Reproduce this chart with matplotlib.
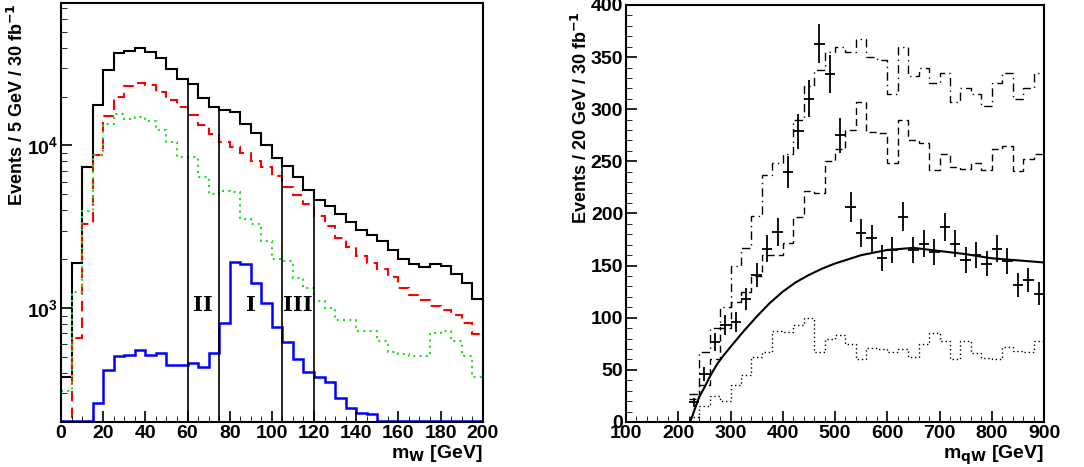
import numpy as np
import matplotlib
matplotlib.use('Agg')
import matplotlib.pyplot as plt
from matplotlib.ticker import MultipleLocator, LogLocator, NullFormatter

plt.rcParams['font.family'] = 'Liberation Sans'
plt.rcParams['font.weight'] = 'bold'
plt.rcParams['xtick.labelsize'] = 14
plt.rcParams['ytick.labelsize'] = 14

# ---- left panel: m_W, 5 GeV bins ----
mw_edges = np.arange(0, 205, 5)
mw_total = [380, 1900, 7350, 17700, 29000, 36800, 38200, 39500, 37600, 34300,
            29700, 25800, 24000, 19700, 17300, 16500, 16100, 13600, 12000, 10100,
            8390, 7530, 6440, 5330, 4640, 4260, 3790, 3410, 3020, 2830,
            2590, 2270, 2000, 1860, 1780, 1860, 1820, 1630, 1430, 1140]
mw_red = [100, 656, 3280, 8800, 15100, 19900, 23100, 24200, 23400, 21300,
          18900, 17300, 15300, 13300, 11800, 10500, 9770, 8970, 8080, 7350,
          6530, 5580, 4980, 4360, 3700, 3210, 2720, 2380, 2090, 1900,
          1730, 1550, 1330, 1210, 1130, 1030, 980, 910, 810, 690]
mw_green = [308, 1250, 3970, 8680, 13470, 15700, 14600, 14960, 14100, 12400,
            10500, 8470, 8470, 6380, 5030, 5230, 5150, 3530, 3280, 2590,
            2000, 1950, 1540, 1330, 1110, 1010, 850, 850, 720, 720,
            625, 540, 520, 510, 510, 705, 720, 625, 510, 380]
mw_blue = [0, 0, 0, 260, 418, 510, 515, 555, 515, 530,
           450, 445, 460, 435, 530, 815, 1930, 1860, 1430, 1070,
           765, 620, 490, 405, 380, 350, 280, 245, 228, 225,
           0, 0, 0, 0, 0, 0, 0, 0, 0, 0]
cut_edges = [60, 75, 105, 120]
region_labels = ['II', 'I', 'III']
region_x = [67.5, 90, 112.5]

# ---- right panel: m_qW, 20 GeV bins ----
mq_edges = np.arange(220, 920, 20)
mq_dashdot = [27, 67, 90, 110, 150, 167, 198, 237, 248, 257, 290, 322, 338, 355, 360,
              355, 367, 350, 347, 315, 360, 332, 340, 325, 335, 307, 320, 315, 303,
              325, 335, 310, 320, 335]
mq_dashed = [22, 35, 60, 90, 115, 125, 140, 160, 160, 172, 197, 222, 220, 250, 262,
             280, 307, 278, 277, 248, 290, 270, 268, 242, 257, 245, 243, 248, 242,
             262, 265, 241, 252, 257]
mq_dotted = [5, 15, 25, 20, 35, 45, 62, 67, 87, 86, 93, 100, 67, 80, 83, 75, 60, 71,
             70, 67, 70, 62, 75, 85, 78, 60, 78, 66, 61, 60, 72, 68, 67, 78]
mq_data = [19, 46, 77, 93, 96, 118, 141, 166, 182, 240, 279, 310, 363, 334, 275, 206,
           181, 176, 157, 165, 197, 165, 171, 163, 187, 171, 155, 160, 152, 166, 154,
           131, 136, 123]
fit_x = [222, 225, 240, 250, 262, 275, 287, 300, 325, 350, 375, 400, 425, 450, 475,
         500, 550, 600, 650, 700, 750, 800, 850, 900]
fit_y = [0, 3, 24, 33, 45, 56, 64, 72, 87, 101, 114, 125, 134, 141, 147,
         152, 160, 165, 167, 164, 161, 157, 155, 153]

fig = plt.figure(figsize=(10.84, 4.67), dpi=100)

ax1 = fig.add_axes([0.0563, 0.0964, 0.389, 0.897])
ymin = 200
blue_plot = np.maximum(mw_blue, ymin * 1.01)
ax1.stairs(mw_total, mw_edges, color='black', lw=1.5, baseline=None)
ax1.stairs(mw_red, mw_edges, color='red', lw=1.5, ls=(0, (5, 3)), baseline=None)
ax1.stairs(mw_green, mw_edges, color='#22dd22', lw=1.5, ls=(0, (1, 2)), baseline=None)
ax1.stairs(blue_plot, mw_edges, color='blue', lw=1.8, baseline=None)
for e in cut_edges:
    h = mw_total[int(e // 5)]
    ax1.plot([e, e], [ymin, h], color='black', lw=1.2)
for lab, x in zip(region_labels, region_x):
    ax1.text(x, 1050, lab, ha='center', va='center', family='DejaVu Serif',
             fontweight='bold', fontsize=15)
ax1.set_yscale('log')
ax1.set_xlim(0, 200)
ax1.set_ylim(ymin, 75000)
ax1.xaxis.set_major_locator(MultipleLocator(20))
ax1.xaxis.set_minor_locator(MultipleLocator(5))
ax1.yaxis.set_major_locator(LogLocator(base=10))
ax1.yaxis.set_minor_locator(LogLocator(base=10, subs=np.arange(2, 10)))
ax1.yaxis.set_minor_formatter(NullFormatter())
ax1.set_xlabel(r'm$_\mathbf{W}$ [GeV]', fontsize=14, fontweight='bold', loc='right', labelpad=1)
ax1.set_ylabel(r'Events / 5 GeV / 30 fb$^{\mathbf{-1}}$', fontsize=13, fontweight='bold',
               loc='top', labelpad=0)

ax2 = fig.add_axes([0.5775, 0.0964, 0.3856, 0.893])
ax2.stairs(mq_dashdot, mq_edges, color='black', lw=1.0, ls=(0, (6, 3, 1, 3)), baseline=None)
ax2.stairs(mq_dashed, mq_edges, color='black', lw=1.0, ls=(0, (5, 3)), baseline=None)
ax2.stairs(mq_dotted, mq_edges, color='black', lw=1.0, ls=(0, (1, 2)), baseline=None)
centers = (mq_edges[:-1] + mq_edges[1:]) / 2
ax2.errorbar(centers, mq_data, xerr=10, yerr=np.sqrt(mq_data), fmt='none',
             ecolor='black', elinewidth=1.3)
ax2.plot(fit_x, fit_y, color='black', lw=1.5)
ax2.set_xlim(100, 900)
ax2.set_ylim(0, 400)
ax2.xaxis.set_major_locator(MultipleLocator(100))
ax2.xaxis.set_minor_locator(MultipleLocator(20))
ax2.yaxis.set_major_locator(MultipleLocator(50))
ax2.yaxis.set_minor_locator(MultipleLocator(10))
ax2.set_xlabel(r'm$_\mathbf{qW}$ [GeV]', fontsize=14, fontweight='bold', loc='right', labelpad=1)
ax2.set_ylabel(r'Events / 20 GeV / 30 fb$^{\mathbf{-1}}$', fontsize=13, fontweight='bold',
               y=0.985, ha='right', labelpad=0)

for ax in (ax1, ax2):
    for s in ax.spines.values():
        s.set_linewidth(1.5)
    ax.tick_params(which='both', direction='in')
    ax.tick_params(which='major', length=8, width=1.2, pad=2)
    ax.tick_params(which='minor', length=4)

fig.savefig('out.png', dpi=100)
